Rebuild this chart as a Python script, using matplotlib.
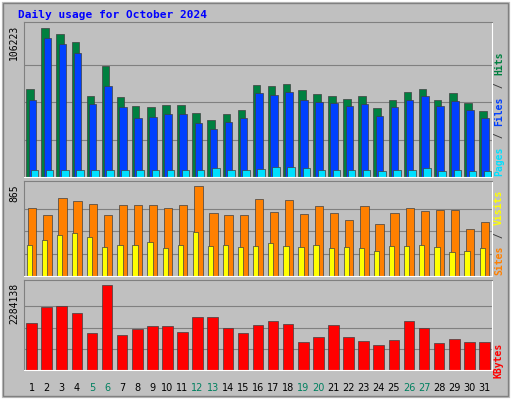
import matplotlib
matplotlib.use("Agg")
import matplotlib.pyplot as plt
from matplotlib.patches import Rectangle
import numpy as np

days = list(range(1, 32))
hits = [62000, 105500, 101200, 95500, 57400, 78900, 56700, 50200, 49500, 50900, 50900, 45200, 40200, 44500, 47400, 65300, 64600, 66000, 61700, 58800, 57400, 55300, 57400, 48800, 54500, 60300, 62400, 54500, 59500, 52400, 46700]
files = [54500, 98300, 94000, 88100, 51700, 64600, 49500, 41600, 42300, 44500, 44500, 38000, 33700, 38800, 41600, 59500, 58100, 60300, 54500, 53100, 52400, 50200, 51700, 43100, 49500, 54500, 57400, 50200, 53800, 47400, 41600]
pages = [5000, 5200, 5100, 5000, 4900, 5300, 4800, 4900, 4700, 4800, 4900, 5200, 6600, 5000, 4800, 6000, 7000, 6800, 6500, 4800, 4900, 4700, 4800, 4600, 4700, 4800, 6200, 4600, 4700, 4500, 4600]
visits = [650, 585, 752, 724, 696, 583, 687, 687, 687, 658, 687, 865, 602, 583, 583, 743, 611, 733, 592, 677, 602, 536, 668, 498, 602, 649, 620, 639, 639, 451, 517]
sites = [301, 348, 395, 414, 376, 282, 301, 301, 329, 273, 301, 423, 292, 301, 282, 292, 320, 292, 282, 301, 273, 282, 273, 245, 292, 292, 301, 282, 226, 245, 273]
kbytes = [1275000, 1700000, 1726000, 1540000, 983000, 2284138, 930000, 1089000, 1169000, 1195000, 1009000, 1434000, 1434000, 1116000, 983000, 1222000, 1328000, 1248000, 744000, 876000, 1222000, 876000, 770000, 664000, 797000, 1328000, 1142000, 717000, 823000, 744000, 744000]
weekend = {5, 6, 12, 13, 19, 20, 26, 27}

W, H = 512, 400
fig = plt.figure(figsize=(W/100, H/100), dpi=100)
fig.patch.set_facecolor("#C0C0C0")
bg = fig.add_axes([0, 0, 1, 1]); bg.set_xlim(0, W); bg.set_ylim(H, 0); bg.axis("off")
bg.add_patch(Rectangle((0, 0), W-1, H-1, fill=False, ec="white", lw=2))
bg.add_patch(Rectangle((3, 3), W-7, H-7, fill=False, ec="#808080", lw=1))
mono = "DejaVu Sans Mono"
bg.text(18, 15, "Daily usage for October 2024", color="#0000FF", fontsize=8, fontweight="bold", family=mono, va="center")

def panel(y0, y1, vmax, label):
    ax = fig.add_axes([24/W, 1-y1/H, 468/W, (y1-y0)/H])
    ax.set_facecolor("#C0C0C0")
    ax.set_xlim(0.5, 31.5); ax.set_ylim(0, vmax*(y1-y0)/(y1-y0-5))
    ax.set_xticks([]); ax.set_yticks([])
    for s in ["top", "left"]:
        ax.spines[s].set_color("#808080")
    for s in ["bottom", "right"]:
        ax.spines[s].set_color("white")
    for f in (0.25, 0.5, 0.75):
        ax.axhline(vmax*f, color="#808080", lw=0.8, zorder=0)
    bg.text(14, y0+3, label, rotation=90, fontsize=7, family=mono, va="top", ha="center")
    return ax

def bars(ax, vals, off, color, w=0.5):
    ax.bar(np.array(days)+off, vals, width=w, color=color, ec="#404040", lw=0.5, zorder=2)

a1 = panel(22, 177, 106223, "106223")
bars(a1, hits, -0.1, "#008040"); bars(a1, files, 0.05, "#0040FF"); bars(a1, pages, 0.2, "#00E0FF")
a2 = panel(181, 276, 865, "865")
bars(a2, visits, 0.05, "#FF8000", 0.55); bars(a2, sites, -0.15, "#FFFF00", 0.35)
a3 = panel(280, 370, 2284138, "2284138")
bars(a3, kbytes, 0.0, "#FF0000", 0.7)

for d in days:
    x = 24 + (d-0.5)*468/31
    bg.text(x, 388, str(d), ha="center", va="center", fontsize=7,
            color="#00805F" if d in weekend else "black", family="DejaVu Sans")

def side(y_bottom, parts):
    y = y_bottom
    for t, c in parts:
        bg.text(499, y, t, rotation=90, fontsize=7, family=mono, color=c, va="bottom", ha="center", fontweight="bold")
        y -= len(t)*6.3
side(176, [("Pages", "#00E0FF"), (" / ", "#404040"), ("Files", "#0040FF"), (" / ", "#404040"), ("Hits", "#008040")])
side(275, [("Sites", "#FF8000"), (" / ", "#404040"), ("Visits", "#FFFF00")])
side(378, [("KBytes", "#FF0000")])

fig.savefig("out.png", dpi=100, facecolor=fig.get_facecolor())
